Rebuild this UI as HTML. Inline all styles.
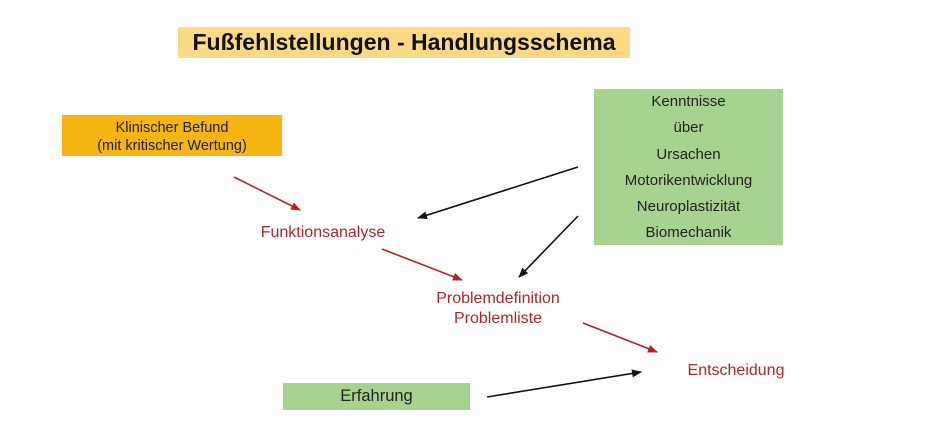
<!DOCTYPE html>
<html><head><meta charset="utf-8"><style>
body{margin:0;width:942px;height:437px;background:#fff;position:relative;overflow:hidden;font-family:"Liberation Sans",sans-serif}
.a{position:absolute}
.t{color:#b0232b;font-size:16px;text-align:center}
</style></head><body>
<div class="a" style="left:178px;top:27px;width:452px;height:31px;background:#fcd985;font-weight:bold;font-size:23px;line-height:31px;text-align:center;color:#111">Fußfehlstellungen - Handlungsschema</div>
<div class="a" style="left:62px;top:115px;width:220px;height:41px;background:#f6b512;font-size:14.5px;line-height:18px;text-align:center;color:#222;padding-top:4px;box-sizing:border-box">Klinischer Befund<br>(mit kritischer Wertung)</div>
<div class="a" style="left:594px;top:89px;width:189px;height:156px;background:#a8d28f;font-size:15px;line-height:26.3px;text-align:center;color:#222;padding-top:0px">Kenntnisse<br>über<br>Ursachen<br>Motorikentwicklung<br>Neuroplastizität<br>Biomechanik</div>
<div class="a" style="left:283px;top:383px;width:187px;height:27px;background:#a8d28f;font-size:16.5px;line-height:27px;text-align:center;color:#222">Erfahrung</div>
<div class="a t" style="left:223px;top:224px;width:200px">Funktionsanalyse</div>
<div class="a t" style="left:398px;top:289px;width:200px;line-height:20px">Problemdefinition<br>Problemliste</div>
<div class="a t" style="left:636px;top:362px;width:200px">Entscheidung</div>
<svg class="a" style="left:0;top:0" width="942" height="437">
<defs>
<marker id="r" markerWidth="10" markerHeight="8" refX="9" refY="4" orient="auto" markerUnits="userSpaceOnUse"><path d="M0,0L10,4L0,8z" fill="#b0232b"/></marker>
<marker id="k" markerWidth="10" markerHeight="8" refX="9" refY="4" orient="auto" markerUnits="userSpaceOnUse"><path d="M0,0L10,4L0,8z" fill="#111"/></marker>
</defs>
<g stroke-width="1.6">
<line x1="234" y1="177" x2="300" y2="210" stroke="#b0232b" marker-end="url(#r)"/>
<line x1="382" y1="249" x2="462" y2="280" stroke="#b0232b" marker-end="url(#r)"/>
<line x1="583" y1="323" x2="657" y2="352" stroke="#b0232b" marker-end="url(#r)"/>
<line x1="578" y1="167" x2="418" y2="218" stroke="#111" marker-end="url(#k)"/>
<line x1="578" y1="216" x2="519" y2="277" stroke="#111" marker-end="url(#k)"/>
<line x1="487" y1="397" x2="641" y2="372" stroke="#111" marker-end="url(#k)"/>
</g>
</svg>
</body></html>
